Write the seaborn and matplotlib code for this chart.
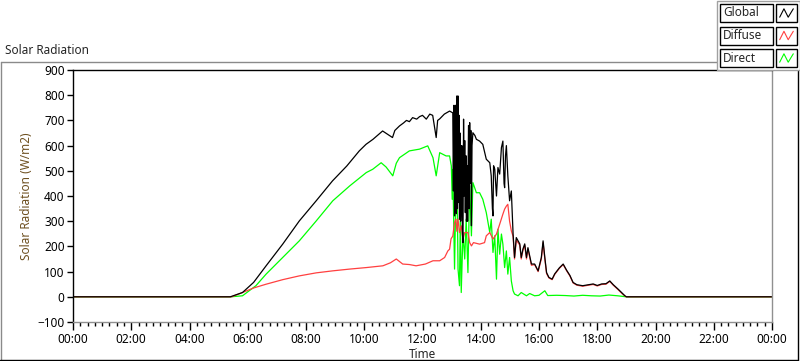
import pandas as pd
import matplotlib.pyplot as plt
import matplotlib.ticker as mticker
from matplotlib.lines import Line2D
from matplotlib.patches import Rectangle
import seaborn as sns

# time of day in hours, radiation in W/m2
global_t = [0, 5.40, 5.82, 6.2, 6.63, 7.2, 7.77, 8.35, 8.91, 9.4, 9.83, 10.06, 10.3, 10.63, 10.8,
            10.97, 11.05, 11.21, 11.35, 11.45, 11.55, 11.66, 11.8, 11.9, 12.0, 12.13, 12.25, 12.35,
            12.47, 12.52, 12.59, 12.75, 12.93,
            13.04, 13.06, 13.08, 13.10, 13.12, 13.14, 13.16, 13.18, 13.20, 13.22, 13.24, 13.26, 13.27,
            13.29, 13.31, 13.33, 13.35, 13.37, 13.39, 13.41, 13.43, 13.45, 13.47, 13.49, 13.51, 13.53,
            13.55, 13.56, 13.58, 13.60, 13.62, 13.64, 13.66, 13.68, 13.70, 13.73, 13.80, 13.85,
            13.96, 14.07, 14.12, 14.19, 14.31, 14.36, 14.40, 14.42, 14.44, 14.48, 14.54, 14.59, 14.65,
            14.71, 14.76, 14.80, 14.82, 14.85, 14.88, 14.93, 14.99, 15.05, 15.11, 15.16, 15.22, 15.34,
            15.39, 15.45, 15.51, 15.57, 15.62, 15.74, 15.85, 15.97, 16.08, 16.14, 16.20, 16.26, 16.34,
            16.45, 16.54, 16.7, 16.83, 16.95, 17.06, 17.17, 17.3, 17.5, 17.7, 17.86, 18.0, 18.15, 18.3,
            18.43, 18.55, 18.72, 18.85, 18.95, 19.0, 24]
global_w = [0, 0, 17, 57, 123, 209, 301, 381, 460, 519, 579, 605, 625, 658, 645,
            632, 660, 678, 690, 700, 695, 711, 705, 715, 720, 705, 725, 720,
            632, 700, 706, 725, 737,
            730, 420, 760, 321, 700, 760, 330, 797, 350, 797, 374, 720, 308,
            650, 300, 388, 600, 250, 215, 705, 400, 620, 334, 560, 300, 520,
            300, 440, 680, 350, 691, 450, 660, 282, 600, 651, 640, 625,
            618, 605, 580, 546, 532, 480, 350, 321, 520, 507, 400, 513, 487,
            592, 618, 450, 433, 560, 600, 480, 381, 420, 250, 156, 235, 210,
            156, 190, 210, 156, 195, 130, 130, 103, 156, 222, 156, 96, 77,
            70, 91, 115, 130, 105, 85, 57, 48, 44, 48, 51, 45, 51, 52,
            63, 48, 30, 15, 4, 0, 0]

diffuse_t = [0, 5.45, 5.82, 6.2, 6.63, 7.2, 7.77, 8.35, 8.92, 9.5, 10.07, 10.64, 10.9, 11.10, 11.32,
             11.55, 11.78, 12.1, 12.36, 12.59, 12.76, 12.87, 12.93, 12.98, 13.04, 13.1, 13.15, 13.18,
             13.22, 13.27, 13.33, 13.39, 13.45, 13.56, 13.62, 13.68, 13.75, 13.96, 14.13, 14.19, 14.31,
             14.42, 14.54, 14.65, 14.76, 14.82, 14.88, 14.93, 14.99, 15.05, 15.11, 15.16, 15.22, 15.34,
             15.39, 15.45, 15.51, 15.57, 15.62, 15.74, 15.85, 15.97, 16.08, 16.14, 16.20, 16.26, 16.34,
             16.45, 16.54, 16.7, 16.83, 16.95, 17.06, 17.17, 17.3, 17.5, 17.7, 17.86, 18.0, 18.15, 18.3,
             18.43, 18.55, 18.72, 18.85, 18.95, 19.0, 24]
diffuse_w = [0, 0, 17, 35, 50, 68, 83, 95, 103, 110, 116, 123, 135, 150, 130,
             128, 123, 130, 143, 143, 156, 182, 189, 230, 241, 295, 308, 260,
             308, 255, 282, 229, 255, 255, 215, 202, 215, 209, 215, 242, 255,
             229, 249, 288, 328, 348, 360, 367, 300, 262, 240, 150, 225, 205,
             150, 185, 205, 150, 190, 125, 128, 100, 150, 215, 150, 92, 75,
             68, 89, 113, 128, 103, 83, 55, 46, 42, 46, 49, 43, 49, 50,
             61, 46, 28, 13, 3, 0, 0]

direct_t = [0, 5.42, 5.82, 6.28, 6.63, 7.2, 7.77, 8.35, 8.92, 9.5, 10.07, 10.29, 10.58, 10.75, 10.98,
            11.1, 11.21, 11.55, 11.9, 12.18, 12.36, 12.47, 12.59, 12.81, 12.93, 12.99, 13.02, 13.04,
            13.10, 13.13, 13.18, 13.22, 13.27, 13.30, 13.33, 13.39, 13.45, 13.50, 13.56, 13.62, 13.68,
            13.73, 13.85, 13.96, 14.07, 14.19, 14.31, 14.36, 14.42, 14.48, 14.54, 14.59, 14.65, 14.71,
            14.76, 14.82, 14.88, 14.93, 14.99, 15.05, 15.11, 15.16, 15.28, 15.39, 15.57, 15.68, 15.85,
            16.0, 16.2, 16.3, 16.6, 16.9, 17.2, 17.5, 17.8, 18.1, 18.4, 18.7, 19.0, 24]
direct_w = [0, 0, 4, 44, 90, 156, 222, 301, 381, 440, 493, 506, 532, 515, 480,
            530, 552, 579, 586, 599, 552, 480, 572, 559, 559, 519, 387, 506,
            110, 308, 506, 110, 44, 334, 17, 255, 150, 308, 96, 440, 242,
            453, 413, 413, 387, 334, 255, 308, 176, 242, 70, 268, 169, 249,
            209, 116, 182, 90, 156, 63, 24, 11, 4, 17, 4, 13, 4,
            6, 24, 5, 6, 5, 3, 6, 4, 3, 7, 4, 0, 0]

series = ['Global', 'Diffuse', 'Direct']
colors = {'Global': '#000000', 'Diffuse': '#ff4040', 'Direct': '#00ff00'}

df = pd.concat([
    pd.DataFrame({'Time': global_t, 'Radiation': global_w, 'Series': 'Global'}),
    pd.DataFrame({'Time': diffuse_t, 'Radiation': diffuse_w, 'Series': 'Diffuse'}),
    pd.DataFrame({'Time': direct_t, 'Radiation': direct_w, 'Series': 'Direct'}),
])

sns.set_style('white')
plt.rcParams['font.family'] = ['Noto Sans', 'DejaVu Sans']

fig = plt.figure(figsize=(8, 3.61), dpi=100)
ax = fig.add_axes([73 / 800, 1 - 322 / 361, 699 / 800, 252 / 361])

# draw direct first so global stays on top
for name in ['Direct', 'Diffuse', 'Global']:
    sns.lineplot(data=df[df['Series'] == name], x='Time', y='Radiation', color=colors[name],
                 lw=0.9, estimator=None, sort=True, ax=ax, legend=False)

ax.set_xlim(0, 24)
ax.set_ylim(-100, 900)
ax.yaxis.set_major_locator(mticker.MultipleLocator(100))
ax.xaxis.set_major_locator(mticker.MultipleLocator(2))
ax.xaxis.set_minor_locator(mticker.MultipleLocator(0.25))
ax.xaxis.set_major_formatter(mticker.FuncFormatter(lambda v, p: '%02d:00' % (int(round(v)) % 24)))
ax.tick_params(axis='both', which='both', bottom=True, left=True, direction='out', width=1,
               colors='black')
ax.tick_params(axis='both', which='major', length=4, labelsize=8.5, pad=2)
ax.tick_params(axis='x', which='minor', length=3)
ax.tick_params(axis='x', which='major', length=6)
ax.set_xlabel('Time', fontsize=8.5, labelpad=1)
ax.set_ylabel('Solar Radiation (W/m2)', fontsize=8.5, color='#6e5020', labelpad=3)
ax.grid(False)
for side in ['left', 'top']:
    ax.spines[side].set_color('black')
for side in ['right', 'bottom']:
    ax.spines[side].set_color('#909090')
for s in ax.spines.values():
    s.set_linewidth(1)

# chart frame and caption
W, H = 800, 361
def px(x, y):
    return x / W, 1 - y / H
fig.add_artist(Line2D([px(0.5, 0)[0], px(717, 0)[0]], [px(0, 61.5)[1]] * 2, color='#8a8a8a', lw=1))
fig.add_artist(Line2D([px(0.5, 0)[0]] * 2, [px(0, 61.5)[1], px(0, 361)[1]], color='#8a8a8a', lw=1))
fig.add_artist(Line2D([0, px(798, 0)[0]], [px(0, 359.5)[1]] * 2, color='black', lw=1))
fig.add_artist(Line2D([px(797.5, 0)[0]] * 2, [px(0, 70)[1], px(0, 360)[1]], color='black', lw=1))
fig.text(px(5, 0)[0], px(0, 50)[1], 'Solar Radiation', fontsize=8.5, va='center', ha='left')

# legend boxes
fig.add_artist(Rectangle(px(717, 70), 83 / W, 69 / H, facecolor='white', edgecolor='#a0a0a0',
                         lw=1, zorder=5))
zig_x = [0.1, 0.35, 0.6, 0.9]
zig_y = [0.2, 0.8, 0.2, 0.8]
for i, name in enumerate(series):
    top = 4 + i * 22.5
    fig.add_artist(Rectangle(px(720, top + 18), 53 / W, 18 / H, facecolor='white',
                             edgecolor='black', lw=1, zorder=6))
    fig.text(px(723, 0)[0], px(0, top + 9)[1], name, fontsize=8.5, va='center', ha='left', zorder=7)
    fig.add_artist(Rectangle(px(776, top + 18), 21 / W, 18 / H, facecolor='white',
                             edgecolor='black', lw=1, zorder=6))
    lx = [px(778 + 17 * f, 0)[0] for f in zig_x]
    ly = [px(0, top + 16 - 14 * f)[1] for f in zig_y]
    fig.add_artist(Line2D(lx, ly, color=colors[name], lw=0.8, zorder=7))

plt.savefig('out.png', dpi=100)
